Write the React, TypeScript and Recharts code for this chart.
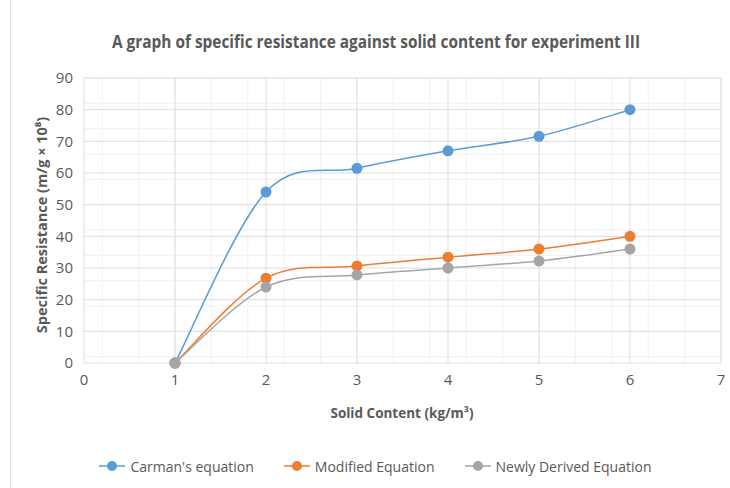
import { CartesianGrid, Legend, Line, LineChart, XAxis, YAxis } from "recharts";

const solidContent = [1, 2, 3, 4, 5, 6];
const carman = [0, 54, 61.5, 67, 71.6, 80];
const modified = [0, 26.8, 30.6, 33.4, 36, 40];
const newlyDerived = [0, 24, 27.8, 30, 32.2, 36];

const xTicks = [0, 1, 2, 3, 4, 5, 6, 7];
const yTicks = [0, 10, 20, 30, 40, 50, 60, 70, 80, 90];
const xMinor = Array.from({ length: 36 }, (_, i) => +(i * 0.2).toFixed(1));
const yMinor = Array.from({ length: 46 }, (_, i) => i * 2);

const series = [
	{ key: "carman", name: "Carman's equation", color: "#5B9BD5" },
	{ key: "modified", name: "Modified Equation", color: "#ED7D31" },
	{ key: "newly", name: "Newly Derived Equation", color: "#A5A5A5" },
];

const data = solidContent.map((x, i) => ({
	x,
	carman: carman[i],
	modified: modified[i],
	newly: newlyDerived[i],
}));

// Excel-like smoothed line (Catmull-Rom through the points)
const smoothCurve = (context: any) => {
	let pts: number[][] = [];
	return {
		areaStart() {},
		areaEnd() {},
		lineStart() {
			pts = [];
		},
		point(x: number, y: number) {
			pts.push([+x, +y]);
		},
		lineEnd() {
			if (!pts.length) return;
			context.moveTo(pts[0][0], pts[0][1]);
			for (let i = 0; i < pts.length - 1; i++) {
				const p0 = pts[Math.max(i - 1, 0)];
				const p1 = pts[i];
				const p2 = pts[i + 1];
				const p3 = pts[Math.min(i + 2, pts.length - 1)];
				context.bezierCurveTo(
					p1[0] + (p2[0] - p0[0]) / 6,
					p1[1] + (p2[1] - p0[1]) / 6,
					p2[0] - (p3[0] - p1[0]) / 6,
					p2[1] - (p3[1] - p1[1]) / 6,
					p2[0],
					p2[1],
				);
			}
		},
	};
};

const font = "Open Sans, sans-serif";
const textColor = "#595959";

const LegendContent = () => (
	<div
		style={{
			display: "flex",
			justifyContent: "center",
			gap: 30,
			fontFamily: font,
			fontSize: 14,
			color: textColor,
			paddingLeft: 30,
			height: 20,
			alignItems: "center",
		}}
	>
		{series.map((s) => (
			<div key={s.key} style={{ display: "flex", alignItems: "center", gap: 5 }}>
				<svg width={26} height={12}>
					<line x1={0} y1={6} x2={26} y2={6} stroke={s.color} strokeWidth={1.5} />
					<circle cx={13} cy={6} r={5} fill={s.color} />
				</svg>
				<span>{s.name}</span>
			</div>
		))}
	</div>
);

export default function App() {
	return (
		<div
			style={{
				position: "absolute",
				left: 0,
				top: 0,
				width: 730,
				height: 488,
				background: "#fff",
				overflow: "hidden",
			}}
		>
			<div
				style={{
					position: "absolute",
					left: 10,
					top: 0,
					width: 1,
					height: 488,
					background: "#e3e3e3",
				}}
			/>
			<LineChart
				width={730}
				height={488}
				data={data}
				margin={{ top: 78, right: 9, left: 0, bottom: 12 }}
			>
				<text
					x={376}
					y={48}
					textAnchor="middle"
					fontFamily={font}
					fontSize={17}
					fontWeight={700}
					fill={textColor}
					textLength={528}
					lengthAdjust="spacingAndGlyphs"
				>
					A graph of specific resistance against solid content for experiment III
				</text>
				<text
					x={402}
					y={418}
					textAnchor="middle"
					fontFamily={font}
					fontSize={13.5}
					fontWeight={700}
					fill={textColor}
				>
					Solid Content (kg/m³)
				</text>
				<text
					x={47}
					y={225}
					transform="rotate(-90 47 225)"
					textAnchor="middle"
					fontFamily={font}
					fontSize={14.5}
					fontWeight={700}
					fill={textColor}
				>
					Specific Resistance (m/g × 10⁸)
				</text>
				<CartesianGrid
					stroke="#f1f1f1"
					horizontalValues={yMinor}
					verticalValues={xMinor}
				/>
				<CartesianGrid
					stroke="#dedede"
					horizontalValues={yTicks}
					verticalValues={xTicks}
				/>
				<XAxis
					dataKey="x"
					type="number"
					domain={[0, 7]}
					ticks={xTicks}
					axisLine={false}
					tickLine={false}
					tickSize={0}
					tickMargin={11}
					height={93}
					tick={{ fill: textColor, fontSize: 15, fontFamily: font }}
				/>
				<YAxis
					type="number"
					domain={[0, 90]}
					ticks={yTicks}
					axisLine={false}
					tickLine={false}
					tickSize={0}
					tickMargin={11}
					width={84}
					tick={{ fill: textColor, fontSize: 15, fontFamily: font }}
				/>
				<Legend verticalAlign="bottom" content={<LegendContent />} />
				{series.map((s) => (
					<Line
						key={s.key}
						dataKey={s.key}
						name={s.name}
						type={smoothCurve as any}
						stroke={s.color}
						strokeWidth={1.5}
						dot={{ r: 5.5, fill: s.color, stroke: s.color, strokeWidth: 0 }}
						activeDot={false}
						isAnimationActive={false}
					/>
				))}
			</LineChart>
		</div>
	);
}
